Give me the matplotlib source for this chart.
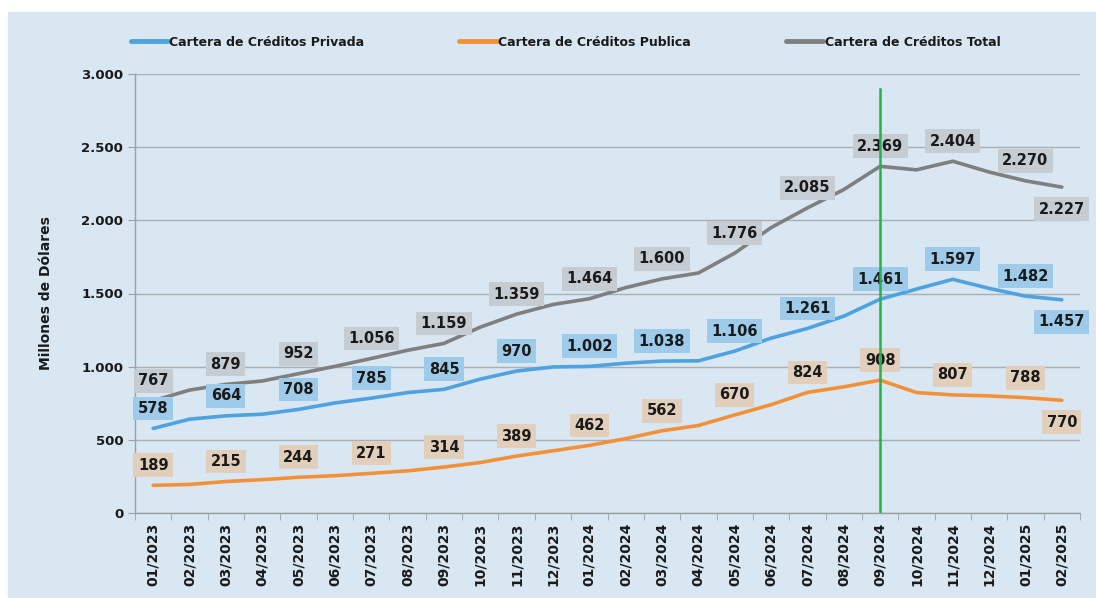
import matplotlib as mpl
mpl.use('Agg')
import matplotlib.pyplot as plt
from matplotlib.patches import Rectangle

# monthly credit portfolio, millions of USD
meses = ['01/2023', '02/2023', '03/2023', '04/2023', '05/2023', '06/2023',
         '07/2023', '08/2023', '09/2023', '10/2023', '11/2023', '12/2023',
         '01/2024', '02/2024', '03/2024', '04/2024', '05/2024', '06/2024',
         '07/2024', '08/2024', '09/2024', '10/2024', '11/2024', '12/2024',
         '01/2025', '02/2025']
privada = [578, 641, 664, 675, 708, 752, 785, 823, 845, 915, 970, 998,
           1002, 1024, 1038, 1040, 1106, 1195, 1261, 1345, 1461, 1530,
           1597, 1535, 1482, 1457]
publica = [189, 195, 215, 228, 244, 255, 271, 288, 314, 345, 389, 425,
           462, 508, 562, 598, 670, 740, 824, 862, 908, 823, 807, 800,
           788, 770]
total = [767, 840, 879, 902, 952, 1002, 1056, 1112, 1159, 1270, 1359, 1425,
         1464, 1540, 1600, 1640, 1776, 1950, 2085, 2210, 2369, 2345,
         2404, 2330, 2270, 2227]

# which months carry a value label, and whether it sits below the line
etiquetas = [0, 2, 4, 6, 8, 10, 12, 14, 16, 18, 20, 22, 24, 25]
abajo = [25]
mes_corte = '09/2024'

bg = '#D8E7F2'
c_priv = '#4EA2DF'
c_pub = '#F49138'
c_tot = '#7F7F7F'
txt = '#1A1A1A'

fig = plt.figure(figsize=(10.96, 5.98), dpi=100, facecolor='white')
fig.patches.append(Rectangle((8 / 1096, 0), 1, 1 - 12 / 598,
                             transform=fig.transFigure, color=bg, zorder=-10))

ax = fig.add_axes([135 / 1096, 1 - 513 / 598, (1080 - 135) / 1096, (513 - 74) / 598])
ax.patch.set_visible(False)

x = list(range(len(meses)))
ax.plot(x, privada, color=c_priv, lw=2.6, solid_capstyle='round', label='Cartera de Créditos Privada', zorder=3)
ax.plot(x, publica, color=c_pub, lw=2.6, solid_capstyle='round', label='Cartera de Créditos Publica', zorder=3)
ax.plot(x, total, color=c_tot, lw=2.6, solid_capstyle='round', label='Cartera de Créditos Total', zorder=3)

ax.set_xlim(-0.5, len(meses) - 0.5)
ax.set_ylim(0, 3000)
ax.set_yticks(range(0, 3001, 500))
ax.set_yticklabels(['0' if v == 0 else '{:,}'.format(v).replace(',', '.')
                    for v in range(0, 3001, 500)])
ax.grid(axis='y', color='#A9AFB4', lw=1)
ax.set_axisbelow(True)
for s in ['top', 'right']:
    ax.spines[s].set_visible(False)
for s in ['left', 'bottom']:
    ax.spines[s].set_color('#9AA0A5')
    ax.spines[s].set_linewidth(1)

ax.set_xticks(x)
ax.set_xticklabels(meses, rotation=90, fontsize=10, fontweight='bold', color=txt)
ax.tick_params(axis='x', length=0, pad=7)
ax.set_xticks([i - 0.5 for i in range(len(meses) + 1)], minor=True)
ax.tick_params(axis='x', which='minor', length=5, color='#9AA0A5')
ax.tick_params(axis='y', length=5, color='#9AA0A5', labelsize=9.5, labelcolor=txt)
for t in ax.get_yticklabels():
    t.set_fontweight('bold')
ax.set_ylabel('Millones de Dólares', fontsize=10, fontweight='bold', color=txt, labelpad=20)

# vertical marker
i_corte = meses.index(mes_corte)
ax.plot([i_corte, i_corte], [0, 2900], color='#22B24C', lw=1.8, zorder=5)


def fmt(v):
    return '{:,}'.format(v).replace(',', '.')


def etiquetar(serie, fondo):
    for i in etiquetas:
        off = -22 if i in abajo else 20
        ax.annotate(fmt(serie[i]), (i, serie[i]), xytext=(0, off),
                    textcoords='offset pixels',
                    ha='center', va='center', fontsize=10.5, fontweight='bold',
                    color=txt, zorder=4,
                    bbox=dict(boxstyle='square,pad=0.3', fc=fondo, ec='none'))


etiquetar(total, '#C5CDD3')
etiquetar(privada, '#9FCBEA')
etiquetar(publica, '#E1CFBB')

leg = fig.legend(loc='center', bbox_to_anchor=(0.516, 1 - 42 / 598), ncol=3, frameon=False,
                 prop={'weight': 'bold', 'size': 9}, handlelength=3.0, handletextpad=0.1,
                 columnspacing=7.6, labelcolor=txt)
for h in leg.legend_handles:
    h.set_linewidth(3.5)

plt.savefig('out.png', dpi=100, facecolor='white')
